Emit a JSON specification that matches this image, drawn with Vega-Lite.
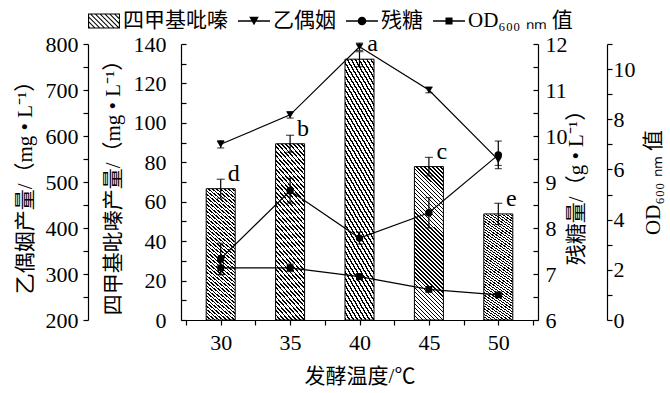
{
"$schema": "https://vega.github.io/schema/vega-lite/v6.json",
"width": 357, "height": 276,
"autosize": "none",
"padding": {"left": 181, "top": 44, "right": 132, "bottom": 73},
"background": "white",
"config": {
  "view": {"stroke": null},
  "font": "Liberation Serif, Noto Sans CJK SC",
  "axis": {"grid": false, "domainColor": "black", "domainWidth": 1.2, "tickColor": "black", "tickWidth": 1.2, "tickSize": 5, "labelColor": "black", "labelFont": "Liberation Serif", "labelFontSize": 22, "titleFont": "Liberation Serif, Noto Sans CJK SC", "titleFontSize": 21, "titleFontWeight": "normal", "titleColor": "black", "labelOverlap": false, "labelFlush": false}
},
"data": {"values": [
{"temp":30,"ttmp":66.6,"ttmp_err":4.8,"letter":"d","ethyl":582,"ethyl_err":8,"sugar":7.33,"sugar_err":0.34,"od":2.08,"od_err":0.28},
{"temp":35,"ttmp":89.4,"ttmp_err":4.3,"letter":"b","ethyl":646,"ethyl_err":7,"sugar":8.81,"sugar_err":0.27,"od":2.08,"od_err":0.15},
{"temp":40,"ttmp":132.3,"ttmp_err":3.8,"letter":"a","ethyl":794,"ethyl_err":8,"sugar":7.78,"sugar_err":0.13,"od":1.73,"od_err":0.12},
{"temp":45,"ttmp":77.8,"ttmp_err":4.7,"letter":"c","ethyl":700,"ethyl_err":6,"sugar":8.33,"sugar_err":0.33,"od":1.22,"od_err":0.1},
{"temp":50,"ttmp":53.8,"ttmp_err":5.4,"letter":"e","ethyl":548,"ethyl_err":12,"sugar":9.59,"sugar_err":0.3,"od":1.0,"od_err":0.1}
]},
"encoding": {"x": {"field": "temp", "type": "quantitative", "scale": {"domain": [27.5, 52.5], "nice": false, "zero": false},
  "axis": {"values": [27.5,30,32.5,35,37.5,40,42.5,45,47.5,50,52.5], "labelExpr": "datum.value % 5 === 0 ? datum.label : ''", "title": "发酵温度/℃", "labelPadding": 7, "titlePadding": 12}}},
"layer": [
 {
  "encoding": {"y": {"field": "ttmp", "type": "quantitative", "scale": {"domain": [0, 140], "nice": false},
    "axis": {"orient": "left", "offset": 0, "values": [0,10,20,30,40,50,60,70,80,90,100,110,120,130,140], "labelExpr": "datum.value % 20 === 0 ? datum.label : ''", "tickSize": -5, "labelPadding": 20, "title": "四甲基吡嗪产量/（mg • L⁻¹）", "titlePadding": 10}}},
  "layer": [
   {"mark": {"type": "bar", "width": 29, "stroke": "black", "strokeWidth": 1, "fill": {"gradient": "linear", "x1": 0, "y1": 1, "x2": 0.2166, "y2": -0.1478, "stops": [
{"offset":0,"color":"#000"},{"offset":0.0087,"color":"#000"},{"offset":0.0087,"color":"#fff"},{"offset":0.0217,"color":"#fff"},
{"offset":0.0217,"color":"#000"},{"offset":0.0304,"color":"#000"},{"offset":0.0304,"color":"#fff"},{"offset":0.0435,"color":"#fff"},
{"offset":0.0435,"color":"#000"},{"offset":0.0522,"color":"#000"},{"offset":0.0522,"color":"#fff"},{"offset":0.0652,"color":"#fff"},
{"offset":0.0652,"color":"#000"},{"offset":0.0739,"color":"#000"},{"offset":0.0739,"color":"#fff"},{"offset":0.0870,"color":"#fff"},
{"offset":0.0870,"color":"#000"},{"offset":0.0957,"color":"#000"},{"offset":0.0957,"color":"#fff"},{"offset":0.1087,"color":"#fff"},
{"offset":0.1087,"color":"#000"},{"offset":0.1174,"color":"#000"},{"offset":0.1174,"color":"#fff"},{"offset":0.1304,"color":"#fff"},
{"offset":0.1304,"color":"#000"},{"offset":0.1391,"color":"#000"},{"offset":0.1391,"color":"#fff"},{"offset":0.1522,"color":"#fff"},
{"offset":0.1522,"color":"#000"},{"offset":0.1609,"color":"#000"},{"offset":0.1609,"color":"#fff"},{"offset":0.1739,"color":"#fff"},
{"offset":0.1739,"color":"#000"},{"offset":0.1826,"color":"#000"},{"offset":0.1826,"color":"#fff"},{"offset":0.1957,"color":"#fff"},
{"offset":0.1957,"color":"#000"},{"offset":0.2043,"color":"#000"},{"offset":0.2043,"color":"#fff"},{"offset":0.2174,"color":"#fff"},
{"offset":0.2174,"color":"#000"},{"offset":0.2261,"color":"#000"},{"offset":0.2261,"color":"#fff"},{"offset":0.2391,"color":"#fff"},
{"offset":0.2391,"color":"#000"},{"offset":0.2478,"color":"#000"},{"offset":0.2478,"color":"#fff"},{"offset":0.2609,"color":"#fff"},
{"offset":0.2609,"color":"#000"},{"offset":0.2696,"color":"#000"},{"offset":0.2696,"color":"#fff"},{"offset":0.2826,"color":"#fff"},
{"offset":0.2826,"color":"#000"},{"offset":0.2913,"color":"#000"},{"offset":0.2913,"color":"#fff"},{"offset":0.3043,"color":"#fff"},
{"offset":0.3043,"color":"#000"},{"offset":0.3130,"color":"#000"},{"offset":0.3130,"color":"#fff"},{"offset":0.3261,"color":"#fff"},
{"offset":0.3261,"color":"#000"},{"offset":0.3348,"color":"#000"},{"offset":0.3348,"color":"#fff"},{"offset":0.3478,"color":"#fff"},
{"offset":0.3478,"color":"#000"},{"offset":0.3565,"color":"#000"},{"offset":0.3565,"color":"#fff"},{"offset":0.3696,"color":"#fff"},
{"offset":0.3696,"color":"#000"},{"offset":0.3783,"color":"#000"},{"offset":0.3783,"color":"#fff"},{"offset":0.3913,"color":"#fff"},
{"offset":0.3913,"color":"#000"},{"offset":0.4,"color":"#000"},{"offset":0.4,"color":"#fff"},{"offset":0.4130,"color":"#fff"},
{"offset":0.4130,"color":"#000"},{"offset":0.4217,"color":"#000"},{"offset":0.4217,"color":"#fff"},{"offset":0.4348,"color":"#fff"},
{"offset":0.4348,"color":"#000"},{"offset":0.4435,"color":"#000"},{"offset":0.4435,"color":"#fff"},{"offset":0.4565,"color":"#fff"},
{"offset":0.4565,"color":"#000"},{"offset":0.4652,"color":"#000"},{"offset":0.4652,"color":"#fff"},{"offset":0.4783,"color":"#fff"},
{"offset":0.4783,"color":"#000"},{"offset":0.4870,"color":"#000"},{"offset":0.4870,"color":"#fff"},{"offset":0.5,"color":"#fff"},
{"offset":0.5,"color":"#000"},{"offset":0.5087,"color":"#000"},{"offset":0.5087,"color":"#fff"},{"offset":0.5217,"color":"#fff"},
{"offset":0.5217,"color":"#000"},{"offset":0.5304,"color":"#000"},{"offset":0.5304,"color":"#fff"},{"offset":0.5435,"color":"#fff"},
{"offset":0.5435,"color":"#000"},{"offset":0.5522,"color":"#000"},{"offset":0.5522,"color":"#fff"},{"offset":0.5652,"color":"#fff"},
{"offset":0.5652,"color":"#000"},{"offset":0.5739,"color":"#000"},{"offset":0.5739,"color":"#fff"},{"offset":0.5870,"color":"#fff"},
{"offset":0.5870,"color":"#000"},{"offset":0.5957,"color":"#000"},{"offset":0.5957,"color":"#fff"},{"offset":0.6087,"color":"#fff"},
{"offset":0.6087,"color":"#000"},{"offset":0.6174,"color":"#000"},{"offset":0.6174,"color":"#fff"},{"offset":0.6304,"color":"#fff"},
{"offset":0.6304,"color":"#000"},{"offset":0.6391,"color":"#000"},{"offset":0.6391,"color":"#fff"},{"offset":0.6522,"color":"#fff"},
{"offset":0.6522,"color":"#000"},{"offset":0.6609,"color":"#000"},{"offset":0.6609,"color":"#fff"},{"offset":0.6739,"color":"#fff"},
{"offset":0.6739,"color":"#000"},{"offset":0.6826,"color":"#000"},{"offset":0.6826,"color":"#fff"},{"offset":0.6957,"color":"#fff"},
{"offset":0.6957,"color":"#000"},{"offset":0.7043,"color":"#000"},{"offset":0.7043,"color":"#fff"},{"offset":0.7174,"color":"#fff"},
{"offset":0.7174,"color":"#000"},{"offset":0.7261,"color":"#000"},{"offset":0.7261,"color":"#fff"},{"offset":0.7391,"color":"#fff"},
{"offset":0.7391,"color":"#000"},{"offset":0.7478,"color":"#000"},{"offset":0.7478,"color":"#fff"},{"offset":0.7609,"color":"#fff"},
{"offset":0.7609,"color":"#000"},{"offset":0.7696,"color":"#000"},{"offset":0.7696,"color":"#fff"},{"offset":0.7826,"color":"#fff"},
{"offset":0.7826,"color":"#000"},{"offset":0.7913,"color":"#000"},{"offset":0.7913,"color":"#fff"},{"offset":0.8043,"color":"#fff"},
{"offset":0.8043,"color":"#000"},{"offset":0.8130,"color":"#000"},{"offset":0.8130,"color":"#fff"},{"offset":0.8261,"color":"#fff"},
{"offset":0.8261,"color":"#000"},{"offset":0.8348,"color":"#000"},{"offset":0.8348,"color":"#fff"},{"offset":0.8478,"color":"#fff"},
{"offset":0.8478,"color":"#000"},{"offset":0.8565,"color":"#000"},{"offset":0.8565,"color":"#fff"},{"offset":0.8696,"color":"#fff"},
{"offset":0.8696,"color":"#000"},{"offset":0.8783,"color":"#000"},{"offset":0.8783,"color":"#fff"},{"offset":0.8913,"color":"#fff"},
{"offset":0.8913,"color":"#000"},{"offset":0.9,"color":"#000"},{"offset":0.9,"color":"#fff"},{"offset":0.9130,"color":"#fff"},
{"offset":0.9130,"color":"#000"},{"offset":0.9217,"color":"#000"},{"offset":0.9217,"color":"#fff"},{"offset":0.9348,"color":"#fff"},
{"offset":0.9348,"color":"#000"},{"offset":0.9435,"color":"#000"},{"offset":0.9435,"color":"#fff"},{"offset":0.9565,"color":"#fff"},
{"offset":0.9565,"color":"#000"},{"offset":0.9652,"color":"#000"},{"offset":0.9652,"color":"#fff"},{"offset":0.9783,"color":"#fff"},
{"offset":0.9783,"color":"#000"},{"offset":0.9870,"color":"#000"},{"offset":0.9870,"color":"#fff"},{"offset":1,"color":"#fff"}
   ]}}},
   {"mark": {"type": "errorbar", "ticks": true, "size": 8, "thickness": 1.2, "color": "black"}, "encoding": {"yError": {"field": "ttmp_err"}}},
   {"mark": {"type": "text", "font": "Liberation Serif", "fontSize": 24, "dx": 13, "dy": -15, "color": "black"}, "encoding": {"text": {"field": "letter"}}}
  ]
 },
 {
  "encoding": {"y": {"field": "ethyl", "type": "quantitative", "scale": {"domain": [200, 800], "nice": false, "zero": false},
    "axis": {"orient": "left", "offset": 93, "values": [200,250,300,350,400,450,500,550,600,650,700,750,800], "labelExpr": "datum.value % 100 === 0 ? datum.label : ''", "tickSize": 5, "labelPadding": 5, "title": "乙偶姻产量/（mg • L⁻¹）", "titlePadding": 10}}},
  "layer": [
   {"mark": {"type": "line", "color": "black", "strokeWidth": 1.2}},
   {"mark": {"type": "errorbar", "ticks": true, "size": 7, "thickness": 1.2, "color": "black"}, "encoding": {"yError": {"field": "ethyl_err"}}},
   {"mark": {"type": "point", "shape": "triangle-down", "filled": true, "color": "black", "size": 60, "opacity": 1}}
  ]
 },
 {
  "encoding": {"y": {"field": "sugar", "type": "quantitative", "scale": {"domain": [6, 12], "nice": false, "zero": false},
    "axis": {"orient": "right", "offset": 0, "values": [6,6.5,7,7.5,8,8.5,9,9.5,10,10.5,11,11.5,12], "format": "~g", "labelExpr": "datum.value % 1 === 0 ? datum.label : ''", "tickSize": -5, "labelPadding": 12, "title": "残糖量/（g • L⁻¹）", "titleAngle": 270, "titleBaseline": "top", "titlePadding": -2}}},
  "layer": [
   {"mark": {"type": "line", "color": "black", "strokeWidth": 1.2}},
   {"mark": {"type": "errorbar", "ticks": true, "size": 7, "thickness": 1.2, "color": "black"}, "encoding": {"yError": {"field": "sugar_err"}}},
   {"mark": {"type": "point", "shape": "circle", "filled": true, "color": "black", "size": 55, "opacity": 1}}
  ]
 },
 {
  "encoding": {"y": {"field": "od", "type": "quantitative", "scale": {"domain": [0, 11], "nice": false},
    "axis": {"orient": "right", "offset": 69, "values": [0,1,2,3,4,5,6,7,8,9,10,11], "labelExpr": "datum.value % 2 === 0 ? datum.label : ''", "tickSize": 5, "labelPadding": 1, "title": "OD₆₀₀ ₙₘ 值", "titleAngle": 270, "titleBaseline": "top", "titlePadding": 7}}},
  "layer": [
   {"mark": {"type": "line", "color": "black", "strokeWidth": 1.2}},
   {"mark": {"type": "errorbar", "ticks": true, "size": 7, "thickness": 1.2, "color": "black"}, "encoding": {"yError": {"field": "od_err"}}},
   {"mark": {"type": "point", "shape": "square", "filled": true, "color": "black", "size": 45, "opacity": 1}}
  ]
 },
 {
  "data": {"values": [{"series": "四甲基吡嗪"}, {"series": "乙偶姻"}, {"series": "残糖"}, {"series": "OD₆₀₀ ₙₘ 值"}]},
  "mark": {"type": "point", "filled": true, "color": "black", "opacity": 0},
  "encoding": {"shape": {"field": "series", "type": "nominal",
    "scale": {"domain": ["四甲基吡嗪", "乙偶姻", "残糖", "OD₆₀₀ ₙₘ 值"], "range": [
      "M-1,-0.47H1V0.47H-1Z M-0.93,-0.4V0.4H0.93V-0.4Z M-0.92,-0.47H-0.83L0.11,0.47H0.02Z M-0.62,-0.47H-0.53L0.41,0.47H0.32Z M-0.32,-0.47H-0.23L0.71,0.47H0.62Z M-0.02,-0.47H0.07L1,0.46V0.47H0.92Z M0.28,-0.47H0.37L1,0.16V0.25Z M0.58,-0.47H0.67L1,-0.14V-0.05Z M0.88,-0.47H0.97L1,-0.44V-0.35Z M-1,-0.34L-0.19,0.47H-0.28L-1,-0.25Z M-1,-0.04L-0.49,0.47H-0.58L-1,0.05Z M-1,0.26L-0.79,0.47H-0.88L-1,0.35Z",
      "M-1,-0.045H1V0.045H-1Z M-0.3,-0.26H0.3L0,0.26Z",
      "M-1,-0.045H1V0.045H-1Z M-0.27,0A0.27,0.27 0 1 1 0.27,0A0.27,0.27 0 1 1 -0.27,0Z",
      "M-1,-0.045H1V0.045H-1Z M-0.22,-0.22H0.22V0.22H-0.22Z"
    ]},
    "legend": {"orient": "none", "legendX": -93, "legendY": -39, "direction": "horizontal", "title": null, "symbolSize": 1024, "symbolFillColor": "black", "symbolStrokeColor": "black", "symbolStrokeWidth": 0, "symbolOpacity": 1, "labelFont": "Liberation Serif, Noto Sans CJK SC", "labelFontSize": 21, "labelColor": "black", "labelOffset": 3, "columnPadding": 10}}}
 }
],
"resolve": {"scale": {"y": "independent"}}
}
